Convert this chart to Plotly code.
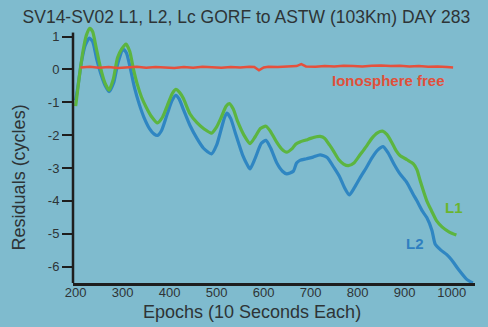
import plotly.graph_objects as go

# L1 (green) residuals
l1_epochs = [200, 207, 216, 223, 230, 236, 243, 252, 262, 271, 280, 289, 298, 307, 315, 323, 331, 340,
             350, 362, 374, 385, 395, 405, 413, 421, 429, 443, 458, 474, 489, 500, 510, 520, 527, 535,
             545, 558, 571, 582, 593, 605, 615, 627, 638, 649, 660, 668, 677, 690, 700, 712, 720, 730,
             740, 748, 760, 770, 780, 792, 805, 818, 830, 842, 853, 862, 872, 882, 890, 905, 918, 926,
             933, 947, 957, 968, 980, 995, 1010]
l1_values = [-1.12, -0.3, 0.59, 1.05, 1.25, 1.15, 0.7, 0.1, -0.4, -0.63, -0.3, 0.35, 0.62, 0.77, 0.55, 0.0,
             -0.45, -0.84, -1.15, -1.45, -1.63, -1.45, -1.1, -0.75, -0.61, -0.7, -0.88, -1.35, -1.62,
             -1.82, -1.94, -1.75, -1.45, -1.12, -1.04, -1.2, -1.6, -2.0, -2.26, -2.05, -1.8, -1.73, -1.9,
             -2.2, -2.42, -2.52, -2.42, -2.28, -2.21, -2.15, -2.1, -2.05, -2.04, -2.1, -2.3, -2.47,
             -2.75, -2.88, -2.93, -2.85, -2.6, -2.35, -2.1, -1.93, -1.88, -1.98, -2.21, -2.48, -2.62,
             -2.75, -2.87, -3.05, -3.39, -4.0, -4.3, -4.61, -4.8, -4.95, -5.04]

# L2 (blue) residuals
l2_epochs = [200, 205, 212, 220, 229, 236, 245, 255, 263, 271, 281, 290, 301, 308, 316, 325, 335, 345,
             357, 367, 374, 383, 395, 405, 413, 420, 430, 443, 458, 472, 489, 500, 510, 517, 522, 530,
             540, 555, 565, 571, 582, 595, 605, 615, 628, 640, 649, 663, 670, 677, 691, 705, 720, 735,
             750, 762, 772, 782, 793, 805, 818, 830, 843, 854, 865, 878, 890, 905, 918, 926, 937, 947,
             958, 965, 977, 989, 1000, 1015, 1032, 1045]
l2_values = [-0.94, -0.5, 0.2, 0.72, 0.95, 0.85, 0.3, -0.2, -0.5, -0.68, -0.4, 0.2, 0.61, 0.5, 0.05,
             -0.55, -1.05, -1.45, -1.8, -1.97, -2.01, -1.85, -1.35, -0.95, -0.79, -0.9, -1.25, -1.7,
             -2.1, -2.4, -2.57, -2.3, -1.8, -1.45, -1.33, -1.5, -1.95, -2.6, -2.9, -3.03, -2.7, -2.25,
             -2.16, -2.4, -2.85, -3.1, -3.18, -3.1, -2.85, -2.77, -2.72, -2.67, -2.6, -2.68, -3.0,
             -3.28, -3.6, -3.82, -3.6, -3.3, -3.0, -2.7, -2.45, -2.35, -2.55, -2.9, -3.18, -3.45, -3.8,
             -4.0, -4.3, -4.51, -4.9, -5.32, -5.5, -5.63, -5.8, -6.1, -6.39, -6.5]

# Lc (ionosphere free, red) residuals
lc_epochs = [210, 230, 250, 270, 290, 310, 330, 350, 370, 390, 410, 430, 450, 470, 490, 510, 530, 550,
             570, 580, 590, 600, 610, 630, 650, 670, 680, 690, 710, 730, 750, 770, 790, 810, 830, 850,
             870, 890, 910, 930, 950, 970, 990, 1003]
lc_values = [0.06, 0.08, 0.05, 0.07, 0.04, 0.06, 0.08, 0.05, 0.07, 0.06, 0.04, 0.07, 0.05, 0.08, 0.06,
             0.05, 0.07, 0.06, 0.08, 0.07, -0.03, 0.06, 0.08, 0.07, 0.09, 0.1, 0.16, 0.09, 0.08, 0.1,
             0.09, 0.11, 0.1, 0.09, 0.11, 0.12, 0.1, 0.11, 0.09, 0.1, 0.08, 0.09, 0.07, 0.06]

x_ticks = [200, 300, 400, 500, 600, 700, 800, 900, 1000]
y_ticks = [1, 0, -1, -2, -3, -4, -5, -6]

BG = "#7fbbce"
TXT = "#2e3436"
AX = "#1e1e1e"
FONT = "Liberation Sans, Arial, sans-serif"
X_RANGE = [194.3, 1049.6]
Y_RANGE = [-6.5, 1.35]

fig = go.Figure()
fig.add_trace(go.Scatter(x=l2_epochs, y=l2_values, mode="lines", name="L2",
                         line=dict(color="#2f86c2", width=3.2, shape="spline", smoothing=0.6)))
fig.add_trace(go.Scatter(x=l1_epochs, y=l1_values, mode="lines", name="L1",
                         line=dict(color="#5cb540", width=3.2, shape="spline", smoothing=0.6)))
fig.add_trace(go.Scatter(x=lc_epochs, y=lc_values, mode="lines", name="Lc",
                         line=dict(color="#e6503c", width=2.5)))

fig.update_layout(
    width=488, height=327,
    margin=dict(l=73, r=13, t=25, b=44),
    paper_bgcolor=BG, plot_bgcolor=BG,
    showlegend=False,
    font=dict(family=FONT, color=TXT, size=13),
    title=dict(text="SV14-SV02 L1, L2, Lc GORF to ASTW (103Km) DAY 283",
               x=0.505, xanchor="center", y=0.948, yanchor="middle",
               font=dict(size=17.5, color=TXT, family=FONT)),
    xaxis=dict(range=X_RANGE, tickvals=x_ticks, ticktext=[str(v) for v in x_ticks],
               showgrid=False, zeroline=False, showline=True, linecolor=AX, linewidth=2.5,
               ticks="", ticklabelstandoff=-4, tickfont=dict(size=13, color=TXT)),
    xaxis2=dict(range=X_RANGE, overlaying="x", side="bottom", anchor="y", tickvals=x_ticks,
                showticklabels=False, showgrid=False, zeroline=False, showline=False,
                ticks="outside", ticklen=4, tickwidth=1.5, tickcolor=AX),
    yaxis=dict(range=Y_RANGE, tickvals=y_ticks, ticktext=[str(v) for v in y_ticks],
               showgrid=False, zeroline=False, showline=False,
               ticks="outside", ticklen=10, tickwidth=2, tickcolor=AX,
               tickfont=dict(size=13, color=TXT)),
    yaxis2=dict(range=Y_RANGE, overlaying="y", side="left", tickvals=y_ticks,
                showticklabels=False, showgrid=False, zeroline=False, showline=False,
                ticks="inside", ticklen=9, tickwidth=2, tickcolor=AX),
)

# y axis line (stops a little below the top of the plotting area, as in the original)
fig.add_shape(type="line", xref="paper", yref="y", x0=0, x1=0, y0=Y_RANGE[0], y1=1.12,
              line=dict(color=AX, width=2.5))

fig.add_annotation(text="Residuals (cycles)", xref="paper", yref="paper", x=-0.132, y=0.409,
                   textangle=-90, showarrow=False, xanchor="center", yanchor="middle",
                   font=dict(size=18, color=TXT, family=FONT))
fig.add_annotation(text="Epochs (10 Seconds Each)", xref="paper", yref="paper", x=0.445, y=-0.113,
                   showarrow=False, xanchor="center", yanchor="middle",
                   font=dict(size=18, color=TXT, family=FONT))
fig.add_annotation(text="<b>Ionosphere free</b>", x=866, y=-0.33, showarrow=False,
                   font=dict(size=15, color="#e0503a", family=FONT))
fig.add_annotation(text="<b>L1</b>", x=1005, y=-4.21, showarrow=False,
                   font=dict(size=15, color="#6ab52e", family=FONT))
fig.add_annotation(text="<b>L2</b>", x=922, y=-5.31, showarrow=False,
                   font=dict(size=15, color="#2f7fc0", family=FONT))

fig.write_html("out.html", config={"displayModeBar": False},
               post_script="document.body.style.margin='0';document.body.style.background='" + BG + "';")
